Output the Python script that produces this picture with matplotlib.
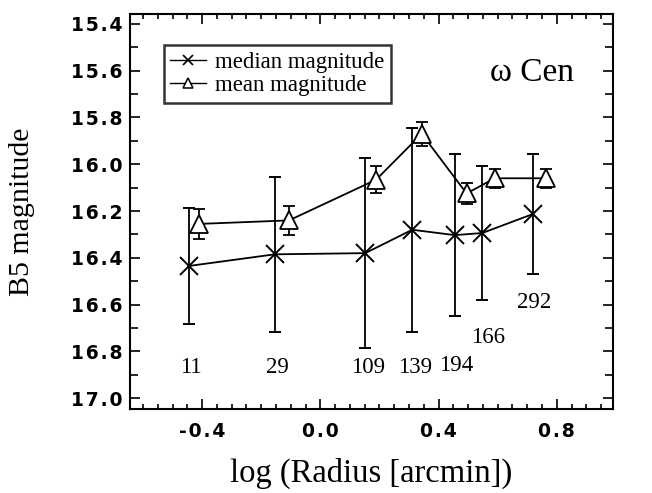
import matplotlib
matplotlib.use("Agg")
import matplotlib.pyplot as plt
from matplotlib.ticker import MultipleLocator, FuncFormatter
from matplotlib.lines import Line2D

# data
logr_median = [-0.446, -0.154, 0.152, 0.311, 0.455, 0.548, 0.719]
median_mag = [16.435, 16.385, 16.38, 16.28, 16.303, 16.294, 16.213]
median_err = [0.25, 0.33, 0.405, 0.435, 0.345, 0.285, 0.255]

logr_mean = [-0.409, -0.106, 0.189, 0.343, 0.495, 0.590, 0.764]
mean_mag = [16.255, 16.24, 16.066, 15.87, 16.125, 16.06, 16.06]
mean_err = [0.065, 0.063, 0.058, 0.05, 0.045, 0.04, 0.04]

counts = ["11", "29", "109", "139", "194", "166", "292"]
count_x = [-0.437, -0.144, 0.162, 0.32, 0.459, 0.566, 0.725]
count_y = [16.87, 16.87, 16.87, 16.87, 16.86, 16.74, 16.59]

serif = "Liberation Serif"
sans = "DejaVu Sans"

fig = plt.figure(figsize=(6.52, 4.93), dpi=100)
ax = fig.add_axes([0.199, 0.170, 0.741, 0.802])

lw = 1.3
ax.errorbar(logr_median, median_mag, yerr=median_err, color="black", lw=lw,
            elinewidth=lw, capsize=4, capthick=lw, marker="x", ms=13, mew=1.4,
            zorder=3)
ax.errorbar(logr_mean, mean_mag, yerr=mean_err, color="black", lw=lw,
            elinewidth=lw, capsize=4, capthick=lw, marker="^", ms=13,
            mfc="white", mec="black", mew=1.3, zorder=4)

for t, xx, yy in zip(counts, count_x, count_y):
    ax.text(xx, yy, t, ha="center", va="center", fontsize=16.5, family=serif)

ax.text(0.832, 0.851, "ω Cen", transform=ax.transAxes, ha="center",
        va="center", fontsize=24, family=serif)

ax.set_xlim(-0.645, 0.99)
ax.set_ylim(17.047, 15.357)

def spaced(v, pos):
    s = f"{v:.1f}"
    if s == "-0.0":
        s = "0.0"
    return "\u200a".join(s)

ax.xaxis.set_major_locator(MultipleLocator(0.4))
ax.xaxis.set_minor_locator(MultipleLocator(0.05))
ax.yaxis.set_major_locator(MultipleLocator(0.2))
ax.yaxis.set_minor_locator(MultipleLocator(0.1))
ax.xaxis.set_major_formatter(FuncFormatter(spaced))
ax.yaxis.set_major_formatter(FuncFormatter(spaced))

ax.tick_params(which="both", direction="in", top=True, right=True, width=1.2)
ax.tick_params(axis="x", which="major", length=7, pad=9)
ax.tick_params(axis="x", which="minor", length=3.5)
ax.tick_params(axis="y", which="major", length=7, pad=5)
ax.tick_params(axis="y", which="minor", length=6)
for lab in ax.get_xticklabels() + ax.get_yticklabels():
    lab.set_fontfamily(sans)
    lab.set_fontweight("bold")
    lab.set_fontsize(13.5)

for s in ax.spines.values():
    s.set_linewidth(1.5)

ax.set_xlabel("log (Radius [arcmin])", fontsize=23.5, family=serif, labelpad=12)
ax.set_ylabel("B5 magnitude", fontsize=21.5, family=serif)
ax.yaxis.set_label_coords(-0.197, 0.5)

handles = [
    Line2D([], [], color="black", lw=1.0, marker="x", ms=7, mew=1.2),
    Line2D([], [], color="black", lw=1.0, marker="^", ms=6.5, mfc="white", mew=1.1),
]
leg = ax.legend(handles, ["median magnitude", "mean magnitude"],
                loc="upper left", bbox_to_anchor=(0.070, 0.9215),
                prop={"family": serif, "size": 16.5}, frameon=True,
                fancybox=False, handlelength=1.55, handletextpad=0.4,
                borderpad=0.3, labelspacing=0.1, borderaxespad=0)
leg.get_frame().set_edgecolor("black")
leg.get_frame().set_linewidth(1.8)

fig.savefig("out.png", dpi=100)
